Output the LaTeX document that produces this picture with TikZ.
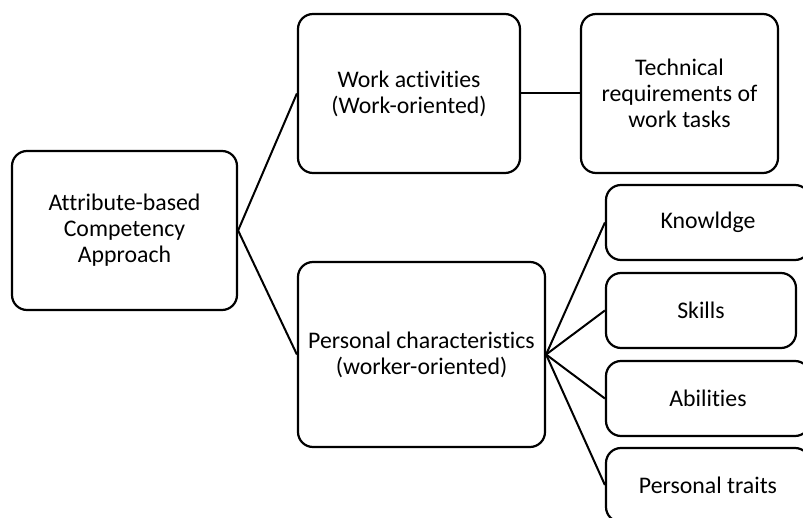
\documentclass[tikz,border=0pt]{standalone}
\usepackage{fontspec}
\setmainfont{Carlito}[Ligatures=NoCommon]
\begin{document}
\begin{tikzpicture}[x=1pt,y=-1pt,
  box/.style={draw=black, line width=2.2pt, rounded corners=15pt, fill=white,
    align=center, inner sep=0pt, font=\fontsize{23.8}{26}\selectfont},
  link/.style={draw=black, line width=2pt}]
  \useasboundingbox (0,0) rectangle (803,518);
  \clip (0,0) rectangle (803,518);

  % boxes (centres and sizes)
  \node[box, minimum width=225pt, minimum height=159pt] (root) at (124.5,230.5)
    {Attribute-based\\Competency\\Approach};
  \node[box, minimum width=222pt, minimum height=159pt] (work) at (409,93.5)
    {Work activities\\(Work-oriented)};
  \node[box, minimum width=197pt, minimum height=159pt] (tech) at (679.5,93.5)
    {Technical\\requirements of\\work tasks};
  \node[box, minimum width=247pt, minimum height=185pt] (pers) at (421.5,354.5)
    {Personal characteristics\\(worker-oriented)};
  \node[box, minimum width=204pt, minimum height=75pt] (know) at (708,222.5) {Knowldge};
  \node[box, minimum width=190pt, minimum height=75pt] (skill) at (701,310.5) {Skills};
  \node[box, minimum width=204pt, minimum height=75pt] (abil) at (708,398.5) {Abilities};
  \node[box, minimum width=204pt, minimum height=74pt] (trait) at (708,485) {Personal traits};

  % connectors
  \draw[link] (root.east) -- (work.west);
  \draw[link] (root.east) -- (pers.west);
  \draw[link] (work.east) -- (tech.west);
  \draw[link] (pers.east) -- (know.west);
  \draw[link] (pers.east) -- (skill.west);
  \draw[link] (pers.east) -- (abil.west);
  \draw[link] (pers.east) -- (trait.west);
\end{tikzpicture}
\end{document}
